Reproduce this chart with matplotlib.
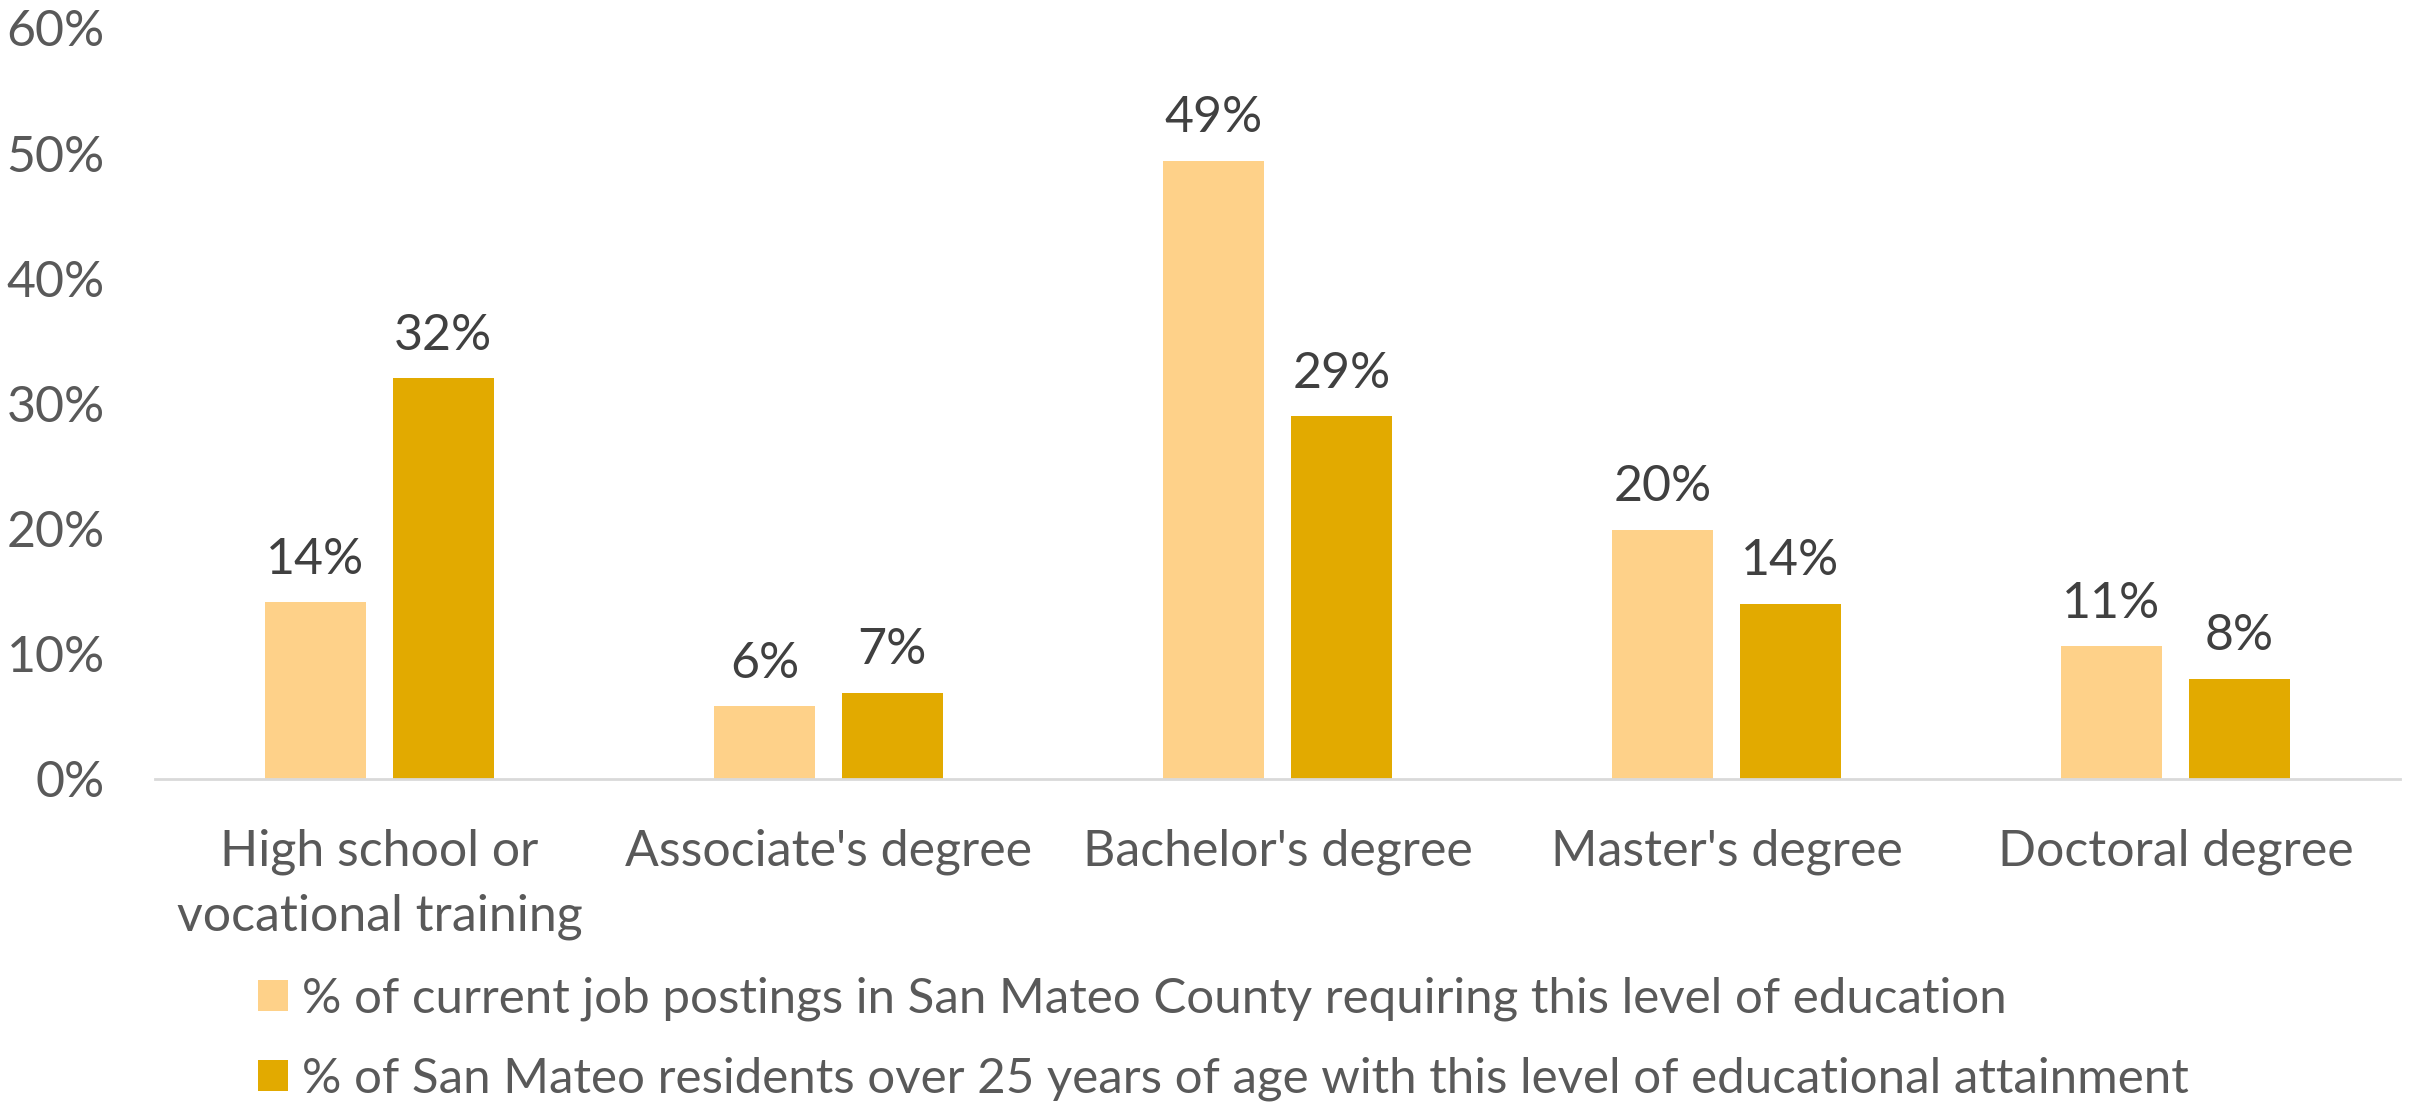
import numpy as np
import matplotlib
matplotlib.use("Agg")
import matplotlib.pyplot as plt

plt.rcParams['font.family'] = ['Lato', 'DejaVu Sans']

categories = ["High school or\nvocational training", "Associate's degree",
              "Bachelor's degree", "Master's degree", "Doctoral degree"]
job_postings = [14.1, 5.8, 49.4, 19.9, 10.6]
residents = [32.0, 6.9, 29.0, 14.0, 8.0]
series_names = ["% of current job postings in San Mateo County requiring this level of education",
                "% of San Mateo residents over 25 years of age with this level of educational attainment"]
yticks = [0, 10, 20, 30, 40, 50, 60]

light = '#FED189'
dark = '#E2AA00'

fig = plt.figure(figsize=(24.2, 11.06), dpi=100)
ax = fig.add_axes([0.064, 0.2957, 0.9277, 0.679])

x = np.arange(len(categories))
w = 0.225
off = 0.1425
b1 = ax.bar(x - off, job_postings, w, color=light, label=series_names[0])
b2 = ax.bar(x + off, residents, w, color=dark, label=series_names[1])

for bars, vals in [(b1, job_postings), (b2, residents)]:
    ax.bar_label(bars, labels=[f"{v:.0f}%" for v in vals], padding=14,
                 fontsize=36, color='#404040')

ax.set_xlim(-0.5, len(categories) - 0.5)
ax.set_ylim(0, 60)
ax.set_yticks(yticks)
ax.set_yticklabels([f"{t}%" for t in yticks])
ax.set_xticks(x)
ax.set_xticklabels(categories, linespacing=1.5)
ax.tick_params(axis='y', length=0, pad=36, labelsize=36, labelcolor='#595959')
ax.tick_params(axis='x', length=0, pad=36, labelsize=36, labelcolor='#595959')

for s in ['top', 'right', 'left']:
    ax.spines[s].set_visible(False)
ax.spines['bottom'].set_color('#D9D9D9')
ax.spines['bottom'].set_linewidth(2)

fig.legend(handles=[b1, b2], loc='upper left', bbox_to_anchor=(0.0985, 0.1345),
           frameon=False, fontsize=35.5, labelcolor='#595959',
           handlelength=0.6, handleheight=0.6, handletextpad=0.3,
           labelspacing=0.72, borderaxespad=0)

fig.savefig('out.png', dpi=100)
